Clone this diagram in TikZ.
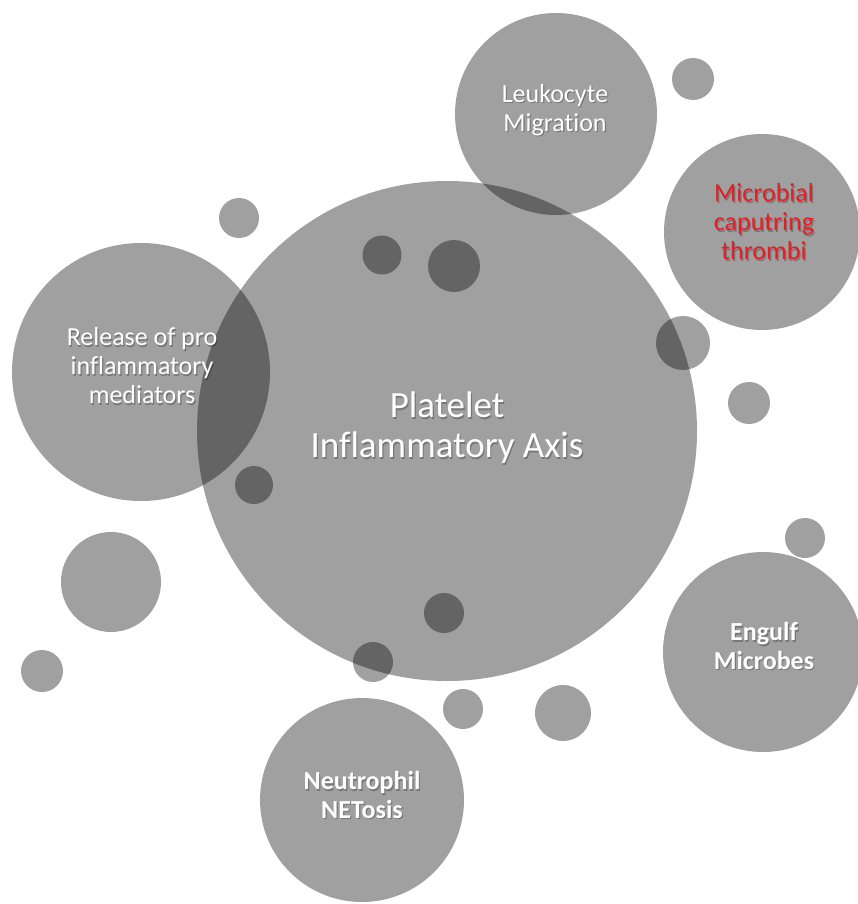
\documentclass[tikz,border=0pt]{standalone}
\usepackage{fontspec}
\setmainfont{Carlito}[Ligatures=NoCommon]
\definecolor{discgray}{RGB}{160,160,160}
\definecolor{redlbl}{RGB}{232,28,36}
\newcommand\shlabel[4]{%
  \node[#2, text=black, opacity=.25, xshift=1.2pt, yshift=-1.5pt] (#1s) at (#3) {#4};
  \node[#2] (#1) at (#3) {#4};}
\begin{document}
\begin{tikzpicture}[x=1pt,y=-1pt,
  disc/.style={circle, fill=discgray, draw=none, inner sep=0pt, minimum size=#1 pt},
  lbl/.style={text=white, align=center, inner sep=0pt, font=\fontsize{26}{29}\selectfont},
  biglbl/.style={lbl, font=\fontsize{37}{40}\selectfont},
  boldlbl/.style={lbl, font=\fontsize{26}{28.5}\selectfont\bfseries},
  redtxt/.style={lbl, text=redlbl}]
\useasboundingbox (0,0) rectangle (857,904);
\fill[white] (0,0) rectangle (857,904);
\begin{scope}[blend mode=multiply]
  % large discs
  \node[disc=500] (axis) at (447,431) {};
  \node[disc=202] (leuk) at (556,114) {};
  \node[disc=196] (micro) at (762,232) {};
  \node[disc=258] (release) at (141,372) {};
  \node[disc=200] (engulf) at (763,652) {};
  \node[disc=204] (neutro) at (362,800) {};
  % small discs
  \node[disc=42] (s1) at (693,79) {};
  \node[disc=40] (s2) at (239,218) {};
  \node[disc=39] (s3) at (382,255) {};
  \node[disc=52] (s4) at (454,266) {};
  \node[disc=54] (s5) at (683,343) {};
  \node[disc=42] (s6) at (749,403) {};
  \node[disc=38] (s7) at (254,485) {};
  \node[disc=40] (s8) at (805,538) {};
  \node[disc=100] (s9) at (111,582) {};
  \node[disc=42] (s10) at (42,671) {};
  \node[disc=40] (s11) at (444,613) {};
  \node[disc=40] (s12) at (373,662) {};
  \node[disc=40] (s13) at (463,709) {};
  \node[disc=56] (s14) at (563,713) {};
\end{scope}
\shlabel{axislbl}{biglbl}{447,428}{Platelet\\Inflammatory Axis}
\shlabel{leuklbl}{lbl}{555,110}{Leukocyte\\Migration}
\shlabel{microlbl}{redtxt}{764,222}{Microbial\\caputring\\thrombi}
\shlabel{releaselbl}{lbl}{142,366}{Release of pro\\inflammatory\\mediators}
\shlabel{engulflbl}{boldlbl}{764,646}{Engulf\\Microbes}
\shlabel{neutrolbl}{boldlbl}{362,795}{Neutrophil\\NETosis}
\end{tikzpicture}
\end{document}
